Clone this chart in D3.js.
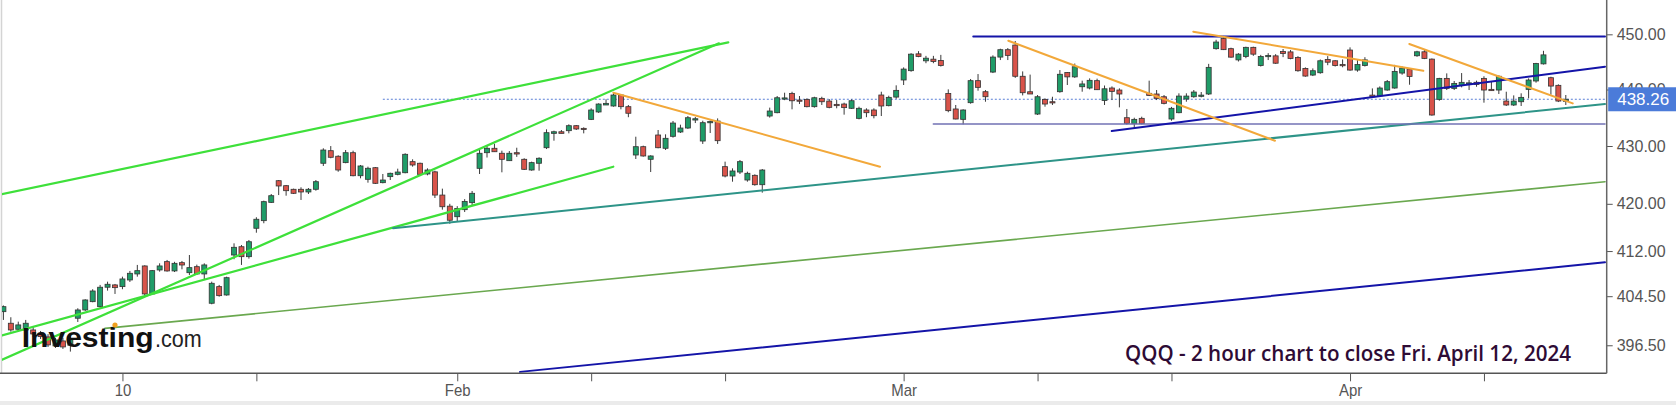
<!DOCTYPE html>
<html><head><meta charset="utf-8">
<script src="https://cdn.jsdelivr.net/npm/d3@7/dist/d3.min.js"></script>
<style>
html,body{margin:0;padding:0;background:#fff;overflow:hidden}
svg{display:block}
</style></head><body>
<svg id="chart" width="1676" height="405"></svg>
<script>
// ---------- DATA ----------
const tradingDays = ["01-02","01-03","01-04","01-05","01-08","01-09","01-10","01-11","01-12","01-16","01-17","01-18","01-19","01-22","01-23","01-24","01-25","01-26","01-29","01-30","01-31",
"02-01","02-02","02-05","02-06","02-07","02-08","02-09","02-12","02-13","02-14","02-15","02-16","02-20","02-21","02-22","02-23","02-26","02-27","02-28","02-29",
"03-01","03-04","03-05","03-06","03-07","03-08","03-11","03-12","03-13","03-14","03-15","03-18","03-19","03-20","03-21","03-22","03-25","03-26","03-27","03-28",
"04-01","04-02","04-03","04-04","04-05","04-08","04-09","04-10","04-11","04-12"];
const slotTimes = ["09:30","11:30","13:30"];
const firstSlot = 2; // first visible candle = last 2h bar of Jan 2

const opens = [401.96,400.07,399.09,398.98,398.98,398.45,397.85,396.40,397.20,396.50,
400.89,402.24,403.60,402.78,405.98,406.36,406.08,407.18,408.18,409.51,
404.87,408.84,410.23,408.68,410.06,408.39,409.39,408.18,403.34,406.08,
404.70,411.34,412.73,411.06,415.84,417.13,420.25,423.97,423.11,422.49,
422.49,422.03,422.49,426.99,429.18,428.21,427.10,428.83,424.83,424.21,
426.22,423.63,424.67,425.07,425.35,427.27,426.99,425.13,425.50,421.50,
419.60,417.80,419.00,420.20,426.11,428.83,429.60,428.73,427.44,428.83,
427.68,425.82,426.99,429.70,432.22,432.50,432.69,433.57,433.10,434.69,
436.00,437.24,437.06,439.02,436.94,428.43,429.88,427.68,431.93,429.60,
431.70,432.46,433.16,434.57,430.87,434.20,434.39,426.40,424.78,425.47,
424.09,424.90,423.28,435.28,435.87,438.30,439.31,438.12,438.24,436.94,
438.42,437.94,437.35,437.41,436.65,434.87,436.35,436.35,439.02,437.12,
438.65,441.71,443.39,446.44,445.17,445.47,445.22,439.30,436.53,434.69,
437.65,441.59,439.61,443.14,445.85,447.19,448.04,442.38,439.60,435.63,
438.24,437.82,439.61,443.05,442.27,440.50,440.27,441.59,438.03,440.27,
439.91,434.98,433.93,434.87,439.32,439.20,438.71,434.75,435.87,438.30,
438.71,438.83,439.20,447.38,449.24,447.38,445.34,445.95,447.62,444.32,
445.93,446.07,446.85,446.79,445.78,443.80,442.60,443.02,445.42,445.18,
444.50,447.13,443.50,444.32,439.00,438.88,439.91,440.27,442.96,443.68,
446.09,446.81,445.48,438.24,442.00,440.21,440.70,441.00,441.30,442.00,
440.03,439.91,437.94,437.24,437.82,440.03,441.53,444.62,442.12,440.75,
437.90];
const highs = [402.98,401.05,400.33,400.61,399.47,398.82,398.30,397.68,397.70,398.00,
402.52,404.00,405.65,406.36,406.90,406.52,407.73,408.68,409.68,409.62,
408.84,409.95,410.51,410.20,410.34,411.34,409.73,409.95,406.90,406.36,
407.73,413.30,413.02,413.86,417.71,420.54,421.68,424.09,423.23,422.60,
422.83,422.71,424.09,429.60,429.99,428.38,429.30,429.18,426.69,426.40,
426.34,425.13,425.36,426.05,428.73,427.68,427.10,426.11,425.70,422.60,
420.00,419.60,420.80,422.20,429.30,430.00,430.40,429.18,429.12,429.70,
427.86,427.27,428.03,432.93,432.69,432.81,433.81,433.69,433.28,436.65,
437.53,438.25,439.43,439.20,437.24,431.63,430.06,428.38,432.81,432.05,
434.40,433.75,435.28,435.10,434.45,434.50,434.86,427.27,426.11,427.56,
425.53,425.07,425.99,436.77,438.84,439.43,439.60,438.84,438.42,438.71,
438.71,438.30,438.12,437.65,438.24,436.94,436.65,436.65,439.61,438.89,
440.75,443.98,446.56,446.93,446.07,446.07,446.25,440.03,437.24,436.47,
441.89,442.78,439.91,446.16,447.37,447.49,448.78,443.26,442.68,439.02,
438.42,438.71,443.50,443.14,444.68,441.59,442.00,441.95,440.72,440.56,
440.21,436.53,434.98,435.16,441.59,439.91,439.02,436.90,439.32,439.32,
439.91,439.55,444.62,449.00,449.70,447.56,446.56,447.74,447.74,446.25,
446.56,446.38,447.32,447.13,446.02,443.98,443.80,445.42,446.02,445.30,
445.42,447.62,445.30,445.83,440.20,440.56,441.71,444.44,444.15,443.86,
446.99,447.23,445.60,442.10,442.90,441.53,442.96,441.71,441.60,442.38,
441.41,442.55,439.61,438.95,439.32,442.00,444.80,446.99,442.30,440.93,
439.02];
const lows = [400.61,398.70,398.70,398.70,397.85,397.52,396.23,396.07,395.91,395.48,
400.28,402.08,403.50,402.62,405.42,404.87,405.65,406.85,407.73,404.59,
404.70,408.56,408.56,408.50,408.95,408.01,408.01,407.30,403.17,404.42,
404.59,410.63,409.68,410.73,415.09,416.69,420.14,421.50,421.39,421.68,
420.66,421.68,422.25,426.52,427.86,425.52,426.99,424.73,424.38,423.63,
423.40,423.52,424.09,424.90,425.25,426.40,424.83,424.90,421.00,419.00,
416.60,417.00,418.60,419.80,425.13,427.99,429.00,425.42,427.40,428.10,
425.82,425.70,425.70,429.47,430.93,432.22,432.22,432.81,432.22,434.57,
435.84,437.24,436.94,436.47,435.07,427.73,428.14,425.47,429.60,429.30,
431.47,432.28,433.00,434.04,430.36,432.28,430.36,424.55,423.80,425.13,
423.80,423.11,421.91,435.00,435.77,438.10,436.47,437.41,436.82,436.77,
437.24,436.65,436.65,435.52,436.53,434.69,435.07,434.87,435.28,437.00,
438.35,440.81,443.20,445.83,444.74,444.74,444.14,435.95,434.69,433.81,
437.47,439.79,437.82,442.96,445.31,445.31,442.09,438.95,439.20,435.46,
436.94,437.24,439.43,440.81,442.09,439.61,440.03,439.91,437.24,438.12,
436.82,433.75,432.99,433.81,438.83,438.12,437.35,434.45,435.77,437.82,
438.53,438.60,439.02,447.20,447.13,445.72,445.05,445.65,446.07,444.14,
445.31,444.62,445.84,445.45,443.20,442.30,442.42,442.84,444.38,444.14,
444.00,443.38,443.20,444.14,438.50,438.71,439.79,440.15,442.66,440.86,
445.90,445.48,435.34,438.00,439.91,439.91,440.39,439.91,440.50,437.65,
439.80,439.20,437.06,437.06,437.06,438.42,441.23,444.50,439.08,437.76,
437.24];
const closes = [402.78,398.98,399.80,400.07,398.33,397.90,396.56,397.36,396.23,397.40,
402.24,403.88,405.36,405.98,406.47,405.91,407.35,408.29,408.73,404.87,
408.73,409.51,408.68,409.95,409.67,409.23,408.18,409.68,406.63,404.59,
407.56,412.63,411.06,413.57,417.37,420.37,421.39,423.06,422.25,421.80,
422.03,422.49,423.80,429.30,428.03,425.82,428.83,424.83,426.52,426.12,
423.52,424.09,425.25,425.47,428.55,426.69,425.07,425.82,421.50,419.50,
417.20,419.20,420.40,421.80,428.73,429.60,429.00,427.68,428.73,428.60,
425.94,427.10,427.86,432.34,432.50,432.22,433.57,432.99,432.99,436.35,
437.41,437.53,439.02,436.94,435.77,429.88,428.26,428.26,429.70,431.35,
434.04,433.16,434.98,434.80,434.10,434.30,430.93,424.78,425.65,427.27,
425.25,423.28,425.82,436.17,438.53,438.50,437.99,438.00,436.94,438.53,
437.82,436.82,437.12,436.77,438.00,436.65,435.87,435.34,437.06,438.60,
439.85,443.68,446.38,445.95,445.65,445.04,444.32,436.23,434.75,436.35,
441.59,440.39,438.71,445.85,447.19,446.16,442.38,439.43,439.20,438.71,
437.41,437.65,442.74,442.27,444.10,441.00,441.65,439.97,440.13,439.67,
439.20,433.98,434.69,433.93,438.95,438.42,437.53,436.65,438.83,438.83,
439.55,439.00,443.99,448.59,447.20,445.84,446.38,447.62,446.38,445.95,
446.14,444.74,446.50,445.60,443.38,442.42,443.38,445.18,444.92,444.32,
444.40,443.50,444.50,445.34,438.70,440.27,441.41,443.26,443.86,442.35,
446.81,445.60,435.46,442.00,440.21,441.10,441.29,441.20,440.90,439.91,
439.80,442.38,437.24,437.94,438.60,441.71,444.68,446.25,440.62,437.94,
438.26];

const yTickValues = [450, 440, 430, 420, 412, 404.5, 396.5];
const xTickDays = ["01-10","01-19","02-01","02-09","02-20","03-01","03-11","03-19","04-01","04-09"];
const xTickLabels = ["10","","Feb","","","Mar","","","Apr",""];
const lastPrice = 438.26;
const lastPriceLineFrom = 51; // candle index where dotted price line starts
const titleText = "QQQ - 2 hour chart to close Fri. April 12, 2024";

// trend lines drawn on the chart: [startCandle, startPrice, endCandle, endPrice]
const greenUpper  = [-0.23, 421.63, 97.43, 448.54];
const greenSteep  = [-0.26, 394.14, 96.18, 448.36];
const greenLower  = [-0.19, 398.09, 81.98, 426.39];
const tealSupport = [52.37, 415.84, 215.27, 437.41];
const oliveSupport= [13.65, 399.24, 215.27, 423.80];
const blueLow     = [69.44, 392.23, 215.27, 410.13];
const blueTop     = [130.36, 449.60, 215.27, 449.60];
const slateFloor  = [124.99, 433.87, 215.27, 433.87];
const blueMid     = [148.97, 432.63, 215.27, 444.10];
const orangeA     = [81.98, 439.43, 117.82, 426.39];
const orangeB     = [135.07, 448.83, 170.91, 430.93];
const orangeC     = [159.93, 450.48, 190.85, 443.37];
const orangeD     = [188.97, 448.24, 210.93, 437.53];

// ---------- BUILD ----------
const candles = opens.map((o,i)=>{
  const s = i + firstSlot;
  return {i, label: tradingDays[Math.floor(s/3)]+" "+slotTimes[s%3], o, h:highs[i], l:lows[i], c:closes[i]};
});
const dayIndex = d => tradingDays.indexOf(d)*3 - firstSlot;

const W=1676, H=405;
const plot = {left:2, right:1606.7, top:0, bottom:373.3};
const svg = d3.select("#chart");
svg.append("rect").attr("width",W).attr("height",H).attr("fill","#fff");
svg.append("rect").attr("x",0).attr("y",401).attr("width",W).attr("height",4).attr("fill","#ebebeb");
svg.append("line").attr("x1",1.5).attr("x2",1.5).attr("y1",0).attr("y2",plot.bottom).attr("stroke","#d4d4d4").attr("stroke-width",1.5);

const x = d3.scaleLinear().domain([0, candles.length-1]).range([3.4, 1565.8]);
const y = d3.scaleLog().domain([392.05, 456.33]).range([373, 0]);

svg.append("defs").append("clipPath").attr("id","clip").append("rect")
  .attr("x",plot.left).attr("y",plot.top).attr("width",plot.right-plot.left).attr("height",plot.bottom-plot.top);
const g = svg.append("g").attr("clip-path","url(#clip)");

// last price dotted line
g.append("line").attr("x1",x(lastPriceLineFrom)).attr("x2",plot.right)
  .attr("y1",y(lastPrice)).attr("y2",y(lastPrice))
  .attr("stroke","#5a7fd6").attr("stroke-width",1).attr("stroke-dasharray","2,2");

// candles
const cw = 5;
const cg = g.append("g");
cg.selectAll("line.w").data(candles).join("line").attr("class","w")
  .attr("x1",d=>x(d.i)).attr("x2",d=>x(d.i)).attr("y1",d=>y(d.h)).attr("y2",d=>y(d.l))
  .attr("stroke","#3a3a3a").attr("stroke-width",1);
cg.selectAll("rect.b").data(candles).join("rect").attr("class","b")
  .attr("x",d=>x(d.i)-cw/2).attr("width",cw)
  .attr("y",d=>y(Math.max(d.o,d.c)))
  .attr("height",d=>Math.max(1.2, Math.abs(y(d.o)-y(d.c))))
  .attr("fill",d=>d.c>=d.o?"#1f9c68":"#d9534a")
  .attr("stroke","#333").attr("stroke-width",0.8);

// trend lines
const lineStyles = [
  [greenUpper,"#3ee03a",2.2],[greenSteep,"#3ee03a",2.2],[greenLower,"#3ee03a",2.2],
  [oliveSupport,"#6aa84f",1.6],[tealSupport,"#2e9488",2],[blueLow,"#1414a8",2],
  [blueTop,"#1414a8",2],[slateFloor,"#7272b4",1.5],[blueMid,"#1414a8",2],
  [orangeA,"#f2a83a",2],[orangeB,"#f2a83a",2],[orangeC,"#f2a83a",2],[orangeD,"#f2a83a",2]
];
g.selectAll("line.t").data(lineStyles).join("line").attr("class","t")
  .attr("x1",d=>x(d[0][0])).attr("y1",d=>y(d[0][1]))
  .attr("x2",d=>x(d[0][2])).attr("y2",d=>y(d[0][3]))
  .attr("stroke",d=>d[1]).attr("stroke-width",d=>d[2]).attr("stroke-linecap","round");

// logo
const logo = svg.append("g");
logo.append("text").attr("x",21.7).attr("y",346.7)
  .attr("font-family","Liberation Sans, Arial, sans-serif").attr("font-weight","bold")
  .attr("font-size",28).attr("fill","#111").attr("textLength",132).attr("lengthAdjust","spacingAndGlyphs")
  .text("Investing");
logo.append("text").attr("x",155).attr("y",346.7)
  .attr("font-family","Liberation Sans, Arial, sans-serif").attr("font-size",24).attr("fill","#222")
  .attr("textLength",46.7).attr("lengthAdjust","spacingAndGlyphs").text(".com");
logo.append("circle").attr("cx",115).attr("cy",325).attr("r",2.6).attr("fill","#f0a020");

// title
svg.append("text").attr("x",1125).attr("y",360.5)
  .attr("font-family","Open Sans, Liberation Sans, sans-serif").attr("font-weight",600)
  .attr("font-size",21).attr("fill","#2e0b35")
  .attr("textLength",446).attr("lengthAdjust","spacingAndGlyphs").text(titleText);

// axes
const xAxis = d3.axisBottom(x).tickValues(xTickDays.map(dayIndex))
  .tickFormat((d,k)=>xTickLabels[k]).tickSize(8).tickPadding(3);
const xg = svg.append("g").attr("transform",`translate(0,${plot.bottom})`).call(xAxis);
xg.select(".domain").remove();
xg.append("line").attr("x1",0).attr("x2",plot.right).attr("stroke","#555").attr("stroke-width",1.6);
xg.selectAll(".tick line").attr("stroke","#555");
xg.selectAll(".tick text").attr("font-family","Liberation Sans, Arial, sans-serif").attr("font-size",17).attr("fill","#555")
  .each(function(){ const w=this.getComputedTextLength(); if(w>0){ d3.select(this).attr("textLength",w*0.88).attr("lengthAdjust","spacingAndGlyphs"); }});

const yAxis = d3.axisRight(y).tickValues(yTickValues).tickFormat(d3.format(".2f")).tickSize(6).tickPadding(4);
const yg = svg.append("g").attr("transform",`translate(${plot.right},0)`).call(yAxis);
yg.select(".domain").remove();
yg.append("line").attr("y1",0).attr("y2",plot.bottom).attr("stroke","#666").attr("stroke-width",1.5);
yg.selectAll(".tick line").attr("stroke","#555");
yg.selectAll(".tick text").attr("font-family","Liberation Sans, Arial, sans-serif").attr("font-size",16).attr("fill","#555");

// last price tag (covers most of the 440.00 label, as in the original)
const tag = svg.append("g").attr("transform",`translate(${plot.right+1.5},${y(lastPrice)})`);
tag.append("rect").attr("x",0).attr("y",-12).attr("width",W-plot.right).attr("height",24).attr("fill","#4b7bd9");
tag.append("text").attr("x",9).attr("y",0).attr("dy","0.36em")
  .attr("font-family","Liberation Sans, Arial, sans-serif").attr("font-size",17).attr("fill","#fff")
  .text(d3.format(".2f")(lastPrice));
</script>
</body></html>
